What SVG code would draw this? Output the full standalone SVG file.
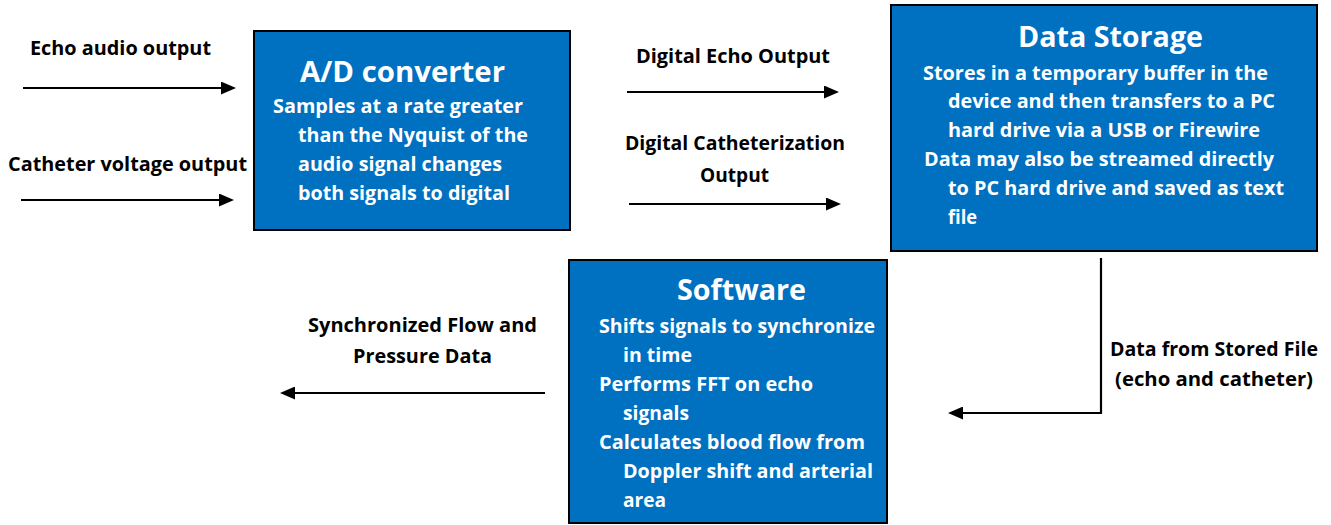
<svg xmlns="http://www.w3.org/2000/svg" width="1331" height="525" viewBox="0 0 1331 525">
<style>
text{font-family:"Open Sans","Liberation Sans",sans-serif;font-weight:bold}
.lbl{font-size:20px;fill:#000}
.body{font-size:20px;fill:#fff}
.title{font-size:28.5px;fill:#fff}
.box{fill:#0070C0;stroke:#000;stroke-width:2}
.con{fill:none;stroke:#000;stroke-width:2.2}
</style>
<defs>
<marker id="ah" viewBox="0 0 15 13" refX="9" refY="6.5" markerWidth="15" markerHeight="13" markerUnits="userSpaceOnUse" orient="auto">
<path d="M0,0 L15,6.5 L0,13 z" fill="#000"/>
</marker>
</defs>
<rect width="1331" height="525" fill="#fff"/>
<g id="connectors">
<line class="con" x1="23" y1="88" x2="230" y2="88" marker-end="url(#ah)"/>
<line class="con" x1="21" y1="200" x2="228" y2="200" marker-end="url(#ah)"/>
<line class="con" x1="627" y1="92" x2="833" y2="92" marker-end="url(#ah)"/>
<line class="con" x1="629" y1="204" x2="835" y2="204" marker-end="url(#ah)"/>
<line class="con" x1="545" y1="393" x2="286" y2="393" marker-end="url(#ah)"/>
<path class="con" d="M1101,258 V413 H954" marker-end="url(#ah)"/>
<text class="lbl" x="30" y="55" textLength="181" lengthAdjust="spacingAndGlyphs">Echo audio output</text>
<text class="lbl" x="8" y="171" textLength="239" lengthAdjust="spacingAndGlyphs">Catheter voltage output</text>
<text class="lbl" x="636" y="63" textLength="194" lengthAdjust="spacingAndGlyphs">Digital Echo Output</text>
<text class="lbl" x="625" y="150" textLength="220" lengthAdjust="spacingAndGlyphs">Digital Catheterization</text>
<text class="lbl" x="700" y="182" textLength="69" lengthAdjust="spacingAndGlyphs">Output</text>
<text class="lbl" x="308" y="332" textLength="229" lengthAdjust="spacingAndGlyphs">Synchronized Flow and</text>
<text class="lbl" x="353" y="363" textLength="139" lengthAdjust="spacingAndGlyphs">Pressure Data</text>
<text class="lbl" x="1110" y="356" textLength="208" lengthAdjust="spacingAndGlyphs">Data from Stored File</text>
<text class="lbl" x="1115" y="386" textLength="198" lengthAdjust="spacingAndGlyphs">(echo and catheter)</text>
</g>
<g id="ad-converter">
<rect class="box" x="254" y="31" width="316" height="199"/>
<text class="title" x="300" y="82" textLength="205" lengthAdjust="spacingAndGlyphs">A/D converter</text>
<text class="body" x="273" y="113" textLength="250" lengthAdjust="spacingAndGlyphs">Samples at a rate greater</text>
<text class="body" x="298" y="142" textLength="230" lengthAdjust="spacingAndGlyphs">than the Nyquist of the</text>
<text class="body" x="298" y="171" textLength="204" lengthAdjust="spacingAndGlyphs">audio signal changes</text>
<text class="body" x="298" y="200" textLength="212" lengthAdjust="spacingAndGlyphs">both signals to digital</text>
</g>
<g id="data-storage">
<rect class="box" x="891" y="5" width="426" height="246"/>
<text class="title" x="1018" y="47" textLength="185" lengthAdjust="spacingAndGlyphs">Data Storage</text>
<text class="body" x="923" y="80" textLength="345" lengthAdjust="spacingAndGlyphs">Stores in a temporary buffer in the</text>
<text class="body" x="948" y="108" textLength="327" lengthAdjust="spacingAndGlyphs">device and then transfers to a PC</text>
<text class="body" x="948" y="137" textLength="312" lengthAdjust="spacingAndGlyphs">hard drive via a USB or Firewire</text>
<text class="body" x="924" y="166" textLength="350" lengthAdjust="spacingAndGlyphs">Data may also be streamed directly</text>
<text class="body" x="948" y="195" textLength="336" lengthAdjust="spacingAndGlyphs">to PC hard drive and saved as text</text>
<text class="body" x="948" y="224" textLength="29" lengthAdjust="spacingAndGlyphs">file</text>
</g>
<g id="software">
<rect class="box" x="569" y="260" width="318" height="263"/>
<text class="title" x="677" y="300" textLength="129" lengthAdjust="spacingAndGlyphs">Software</text>
<text class="body" x="599" y="333" textLength="276" lengthAdjust="spacingAndGlyphs">Shifts signals to synchronize</text>
<text class="body" x="623" y="362" textLength="69" lengthAdjust="spacingAndGlyphs">in time</text>
<text class="body" x="599" y="391" textLength="214" lengthAdjust="spacingAndGlyphs">Performs FFT on echo</text>
<text class="body" x="623" y="420" textLength="66" lengthAdjust="spacingAndGlyphs">signals</text>
<text class="body" x="599" y="449" textLength="266" lengthAdjust="spacingAndGlyphs">Calculates blood flow from</text>
<text class="body" x="623" y="478" textLength="250" lengthAdjust="spacingAndGlyphs">Doppler shift and arterial</text>
<text class="body" x="623" y="507" textLength="43" lengthAdjust="spacingAndGlyphs">area</text>
</g>
</svg>
